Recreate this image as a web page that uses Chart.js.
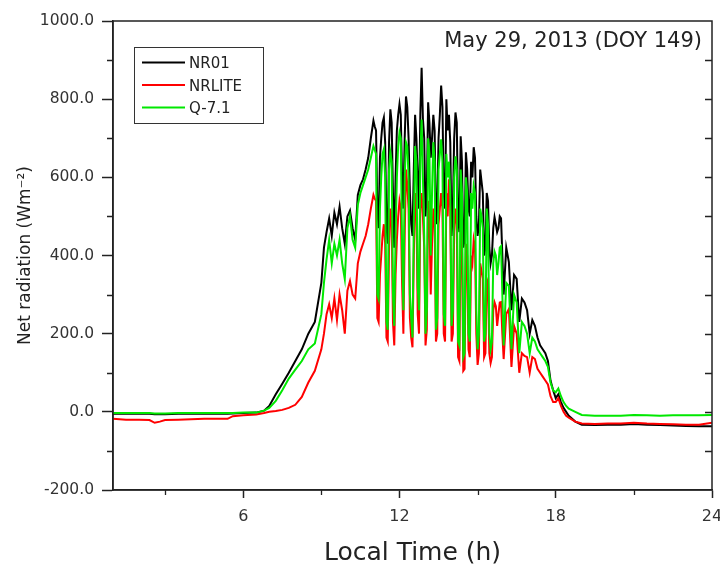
<!DOCTYPE html>
<html>
<head>
<meta charset="utf-8">
<script src="https://cdn.jsdelivr.net/npm/chart.js@4.4.1/dist/chart.umd.min.js"></script>
<style>
  html, body { margin: 0; padding: 0; background: #fff; }
  canvas { display: block; }
</style>
</head>
<body>
<canvas id="chart" width="720" height="566"></canvas>
<script>
// local time (h)
const hours = [
  1, 1.5, 2, 2.4, 2.6, 2.8, 3, 3.5, 4, 4.5, 5, 5.4, 5.6, 6, 6.5, 6.8, 7, 7.25, 7.5, 7.75, 8, 8.25, 8.5, 8.75,
  9.0, 9.1, 9.2, 9.3, 9.4, 9.5, 9.6, 9.7, 9.8, 9.9,
  10.0, 10.1, 10.2, 10.3, 10.4, 10.5, 10.6, 10.7, 10.8, 10.9,
  11.00, 11.05, 11.10, 11.15, 11.20, 11.25, 11.30, 11.35, 11.40, 11.45,
  11.50, 11.55, 11.60, 11.65, 11.70, 11.75, 11.80, 11.85, 11.90, 11.95,
  12.00, 12.05, 12.10, 12.15, 12.20, 12.25, 12.30, 12.35, 12.40, 12.45,
  12.50, 12.55, 12.60, 12.65, 12.70, 12.75, 12.80, 12.85, 12.90, 12.95,
  13.00, 13.05, 13.10, 13.15, 13.20, 13.25, 13.30, 13.35, 13.40, 13.45,
  13.50, 13.55, 13.60, 13.65, 13.70, 13.75, 13.80, 13.85, 13.90, 13.95,
  14.00, 14.05, 14.10, 14.15, 14.20, 14.25, 14.30, 14.35, 14.40, 14.45,
  14.50, 14.55, 14.60, 14.65, 14.70, 14.75, 14.80, 14.85, 14.90, 14.95,
  15.00, 15.05, 15.10, 15.15, 15.20, 15.25, 15.30, 15.35, 15.40, 15.45,
  15.50, 15.55, 15.60, 15.65, 15.70, 15.75, 15.80, 15.85, 15.90, 15.95,
  16.0, 16.1, 16.2, 16.3, 16.4, 16.5, 16.6, 16.7, 16.8, 16.9,
  17.0, 17.1, 17.2, 17.3, 17.4, 17.5, 17.6, 17.7, 17.8, 17.9,
  18.0, 18.1, 18.2, 18.3, 18.4, 18.5,
  18.75, 19, 19.5, 20, 20.5, 21, 21.5, 22, 22.5, 23, 23.5, 24
];

// net radiation (W m-2)
const nr01 = [
  -5, -5, -5, -5, -6, -6, -6, -5, -5, -5, -5, -5, -4, -3, -2, 3, 15, 45, 72, 100, 130, 160, 200, 230,
  330, 420, 460, 495, 450, 510, 480, 525, 470, 430,
  500, 515, 470, 440, 555, 580, 595, 620, 650, 700,
  745, 730, 720, 520, 470, 650, 700, 740, 753, 690,
  480, 430, 690, 774, 740, 560, 420, 600, 720, 760,
  787, 760, 600, 520, 700, 807, 780, 700, 560, 480,
  450, 620, 760, 700, 600, 520, 760, 880, 750, 700,
  500, 560, 792, 740, 650, 700, 760, 720, 480, 520,
  700, 760, 835, 780, 560, 520, 800, 720, 760, 690,
  450, 520, 700, 766, 740, 500, 460, 705, 640, 420,
  440, 664, 620, 520, 500, 640, 600, 677, 650, 500,
  450, 480, 620, 590, 560, 400, 420, 560, 540, 420,
  380, 400, 470, 498, 480, 460, 470, 500, 495, 400,
  300, 420, 383, 260, 350, 340, 230, 290, 280, 260,
  200, 235, 220, 190, 170, 160, 150, 130, 80, 55,
  35, 45, 25, 10, 0, -10,
  -25, -33, -34, -33, -33, -31, -33, -34, -35, -36, -37, -37
];

const nrlite = [
  -18, -20, -20, -21, -28, -25, -21, -20, -19, -18, -18, -18, -11, -9, -7, -3, 0, 2, 5, 10, 18, 38, 75, 105,
  160, 200, 250, 275, 240, 290, 235, 300, 260, 200,
  310, 335, 300, 290, 380, 410, 430, 450, 480, 520,
  555, 545, 540, 240, 230, 350, 400, 450, 480, 430,
  190, 180, 420, 520, 500, 230, 170, 350, 440, 500,
  540, 520, 330, 200, 450, 620, 580, 520, 240, 190,
  165, 400, 560, 520, 250, 200, 520, 560, 500, 420,
  170, 210, 540, 500, 300, 430, 520, 480, 180, 200,
  480, 520, 560, 520, 200, 180, 560, 500, 595, 520,
  180, 200, 460, 520, 480, 140, 130, 470, 420, 105,
  110, 430, 400, 160, 140, 400, 380, 440, 420, 200,
  120, 150, 380, 360, 340, 140, 150, 340, 330, 150,
  125, 140, 260, 280, 270, 220, 250, 280, 281, 200,
  135, 250, 263, 115, 220, 200, 100, 150, 143, 140,
  100, 140, 135, 110, 100, 90, 80, 70, 40, 25,
  25, 35, 15, 0, -10, -15,
  -25, -30, -31, -30, -30, -28, -30, -31, -32, -33, -33, -28
];

const q71 = [
  -3, -3, -3, -3, -4, -4, -4, -3, -3, -3, -3, -3, -3, -2, -2, 3, 10, 28, 55, 85, 108, 130, 160, 175,
  250, 330, 390, 440, 380, 430, 400, 440, 380, 340,
  470, 500, 440, 420, 530, 560, 580, 600, 620, 650,
  680, 670, 660, 300, 289, 520, 600, 660, 672, 600,
  230, 210, 620, 664, 640, 300, 220, 450, 600, 680,
  715, 700, 420, 260, 600, 690, 680, 600, 300, 240,
  190, 480, 680, 640, 320, 260, 650, 748, 600, 450,
  200, 260, 700, 660, 400, 560, 690, 640, 210, 240,
  620, 660, 697, 640, 250, 220, 660, 600, 640, 560,
  220, 260, 600, 654, 620, 180, 170, 620, 560, 140,
  150, 600, 560, 200, 180, 560, 520, 578, 560, 260,
  160, 200, 520, 500, 470, 180, 200, 520, 480, 200,
  160, 180, 380, 410, 400, 350, 380, 420, 424, 300,
  170, 330, 322, 160, 300, 280, 150, 230, 220, 200,
  150, 190, 180, 160, 150, 140, 130, 115, 75, 55,
  50, 60, 40, 25, 15, 8,
  0, -8, -10, -10, -10, -8, -9, -10, -9, -9, -9, -8
];

const seriesNames = ['NR01', 'NRLITE', 'Q-7.1'];
const seriesColors = ['#000000', '#ff0000', '#00e800'];
const xTicks = [6, 12, 18, 24];
const xMinor = [3, 9, 15, 21];
const yMinor = [-100, 100, 300, 500, 700, 900];
const dateLabel = 'May 29, 2013 (DOY 149)';

const FONT = '"DejaVu Sans", sans-serif';

function points(values) {
  return values.map((v, i) => ({ x: hours[i], y: v }));
}

// frame box, minor ticks, right-side ticks, date label and boxed legend
const decorations = {
  id: 'decorations',
  afterDraw(chart) {
    const { ctx, chartArea: a, scales: { x, y } } = chart;
    ctx.save();
    ctx.strokeStyle = '#222';
    ctx.lineWidth = 1.5;
    ctx.strokeRect(a.left, a.top, a.right - a.left, a.bottom - a.top);

    ctx.lineWidth = 1.3;
    ctx.beginPath();
    yMinor.forEach(v => {
      const p = Math.round(y.getPixelForValue(v)) + 0.5;
      ctx.moveTo(a.left - 6, p);
      ctx.lineTo(a.left, p);
    });
    for (let v = -100; v <= 900; v += 100) {
      const p = Math.round(y.getPixelForValue(v)) + 0.5;
      ctx.moveTo(a.right - 7, p);
      ctx.lineTo(a.right, p);
    }
    xMinor.forEach(v => {
      const p = Math.round(x.getPixelForValue(v)) + 0.5;
      ctx.moveTo(p, a.bottom);
      ctx.lineTo(p, a.bottom + 5);
    });
    ctx.stroke();

    ctx.fillStyle = '#222';
    ctx.font = '21px ' + FONT;
    ctx.textAlign = 'right';
    ctx.textBaseline = 'alphabetic';
    ctx.fillText(dateLabel, a.right - 10, a.top + 26);

    // legend box
    const lx = a.left + 21, ly = a.top + 26;
    ctx.lineWidth = 1;
    ctx.strokeStyle = '#333';
    ctx.strokeRect(lx + 0.5, ly + 0.5, 129, 76);
    ctx.font = '15px ' + FONT;
    ctx.textAlign = 'left';
    chart.data.datasets.forEach((ds, i) => {
      const rowY = ly + 15.5 + i * 22.5;
      ctx.strokeStyle = ds.borderColor;
      ctx.lineWidth = 2;
      ctx.beginPath();
      ctx.moveTo(lx + 8, rowY);
      ctx.lineTo(lx + 51, rowY);
      ctx.stroke();
      ctx.fillStyle = '#222';
      ctx.fillText(ds.label, lx + 55, rowY + 5.5);
    });
    ctx.restore();
  }
};

new Chart(document.getElementById('chart'), {
  type: 'line',
  data: {
    datasets: [nr01, nrlite, q71].map((vals, i) => ({
      label: seriesNames[i],
      data: points(vals),
      borderColor: seriesColors[i],
      backgroundColor: seriesColors[i],
      borderWidth: 2,
      pointRadius: 0,
      tension: 0,
      order: 3 - i
    }))
  },
  options: {
    responsive: false,
    animation: false,
    devicePixelRatio: 1,
    layout: { padding: { top: 21, right: 8, left: 0, bottom: 0 } },
    plugins: {
      legend: { display: false },
      tooltip: { enabled: false }
    },
    scales: {
      x: {
        type: 'linear',
        min: 1,
        max: 24,
        afterBuildTicks(scale) {
          scale.ticks = xTicks.map(v => ({ value: v }));
        },
        afterFit(scale) {
          scale.height = 76;
          scale.paddingLeft = 0;
          scale.paddingRight = 0;
        },
        grid: { drawOnChartArea: false, tickLength: 8, tickWidth: 1.5, tickColor: '#222' },
        border: { color: '#222', width: 1.5 },
        ticks: {
          color: '#333',
          padding: 9,
          maxRotation: 0,
          font: { family: FONT, size: 16 }
        },
        title: {
          display: true,
          text: 'Local Time (h)',
          color: '#222',
          font: { family: FONT, size: 25, lineHeight: 1 },
          padding: { top: 0, bottom: 0 }
        }
      },
      y: {
        min: -200,
        max: 1000,
        afterFit(scale) {
          scale.width = 113;
          scale.paddingTop = 0;
          scale.paddingBottom = 0;
        },
        grid: { drawOnChartArea: false, tickLength: 11, tickWidth: 1.5, tickColor: '#222' },
        border: { color: '#222', width: 1.5 },
        ticks: {
          stepSize: 200,
          color: '#333',
          padding: 8,
          font: { family: FONT, size: 15.5 },
          callback: v => v.toFixed(1)
        },
        title: {
          display: true,
          text: 'Net radiation (Wm⁻²)',
          color: '#222',
          font: { family: FONT, size: 17 },
          padding: { top: 15, bottom: 0 }
        }
      }
    }
  },
  plugins: [decorations]
});
</script>
</body>
</html>
